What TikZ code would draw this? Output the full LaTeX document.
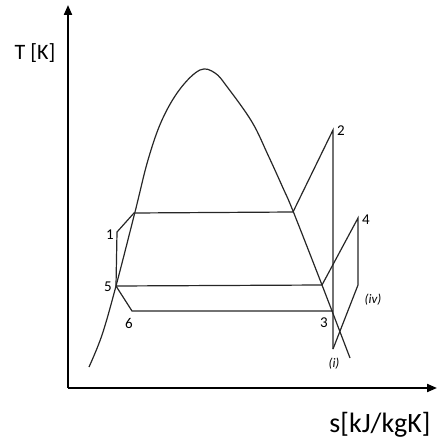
\documentclass[tikz,border=0pt]{standalone}
\usepackage{fontspec}
\setmainfont{Carlito}
\usetikzlibrary{arrows.meta}

\begin{document}
\begin{tikzpicture}[
    x=0.5pt, y=-0.5pt,
    axis/.style={draw, line width=1pt, -{Triangle[length=5pt, width=4pt]}},
    cycle/.style={draw, line width=0.6pt, black!85},
    dome/.style={draw, line width=0.6pt, black!85},
    pt/.style={font=\fontsize{7.5}{9}\selectfont, inner sep=0pt},
    sub/.style={font=\fontsize{6.5}{8}\selectfont\itshape, inner sep=0pt},
    lbl/.style={font=\fontsize{11}{13}\selectfont, inner sep=0pt}
]
\useasboundingbox (0,0) rectangle (437,444);

% axes
\coordinate (o) at (68,388);
\coordinate (ytip) at (68,5);
\coordinate (xtip) at (437,388);
\draw[axis] (o) -- (ytip);
\draw[axis] (o) -- (xtip);
\node[lbl] (tlab) at (35,53) {T [K]};
\node[lbl, font=\fontsize{14}{16}\selectfont] (slab) at (380,425) {s[kJ/kgK]};

% saturation dome
\draw[dome] plot[smooth, tension=0.6] coordinates {
    (89,367) (102,335) (116,286) (135,212) (148,160) (162,120)
    (180,89) (200,70) (215,73) (228,88) (252,122) (268,155)
    (283,188) (293,211) (322,285) (350,358)};

% cycle points
\coordinate (p1) at (117,232);
\coordinate (a) at (134,213);
\coordinate (b) at (293,212);
\coordinate (p2) at (333,130);
\coordinate (p3) at (333,311);
\coordinate (pi) at (333,349);
\coordinate (p4) at (358,218);
\coordinate (c) at (322,285);
\coordinate (piv) at (358,285);
\coordinate (p5) at (116,286);
\coordinate (p6) at (132,311);

% cycle
\draw[cycle] (p5) -- (p1) -- (a) -- (b) -- (p2) -- (pi);
\draw[cycle] (p5) -- (c) -- (p4) -- (piv) -- (pi);
\draw[cycle] (p5) -- (p6) -- (p3);

% labels
\node[pt] (l1) at (110,235) {1};
\node[pt] (l2) at (341,131) {2};
\node[pt] (l3) at (324,323) {3};
\node[pt] (l4) at (366,220) {4};
\node[pt] (l5) at (108,287) {5};
\node[pt] (l6) at (129,323) {6};
\node[sub] (li) at (334,364) {(i)};
\node[sub] (liv) at (373,300) {(iv)};
\end{tikzpicture}
\end{document}
